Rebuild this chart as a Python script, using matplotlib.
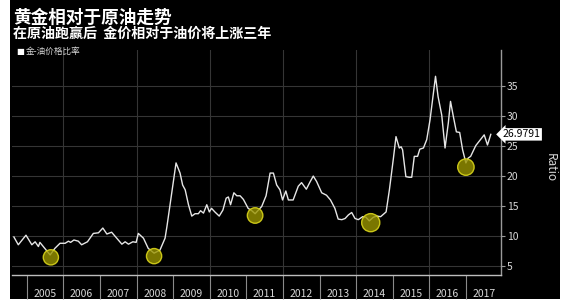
import matplotlib
matplotlib.use("Agg")
import matplotlib.pyplot as plt
from matplotlib.patches import Rectangle
import matplotlib.transforms as mtransforms

plt.rcParams['font.family'] = ['Noto Sans CJK SC', 'DejaVu Sans']

# ---- data (decimal years, gold/oil price ratio) ----
years = [2004.65, 2004.77, 2004.98, 2005.14, 2005.23, 2005.32, 2005.36, 2005.64, 2005.77, 2005.91,
         2006.05, 2006.14, 2006.20, 2006.29, 2006.41, 2006.50, 2006.66, 2006.82, 2006.96, 2007.08,
         2007.19, 2007.32, 2007.46, 2007.60, 2007.69, 2007.78, 2007.90, 2007.99, 2008.05, 2008.19,
         2008.32, 2008.48, 2008.64, 2008.78, 2008.83, 2008.96, 2009.08, 2009.19, 2009.26, 2009.33,
         2009.42, 2009.51, 2009.60, 2009.69, 2009.75, 2009.83, 2009.92, 2009.99, 2010.05, 2010.14,
         2010.26, 2010.36, 2010.45, 2010.51, 2010.57, 2010.66, 2010.74, 2010.83, 2010.92, 2011.05,
         2011.15, 2011.24, 2011.33, 2011.42, 2011.54, 2011.65, 2011.74, 2011.83, 2011.92, 2011.99,
         2012.08, 2012.15, 2012.28, 2012.42, 2012.51, 2012.64, 2012.74, 2012.83, 2012.92, 2013.06,
         2013.19, 2013.30, 2013.42, 2013.51, 2013.61, 2013.70, 2013.79, 2013.88, 2013.97, 2014.06,
         2014.18, 2014.27, 2014.36, 2014.47, 2014.57, 2014.67, 2014.82, 2014.91, 2015.02, 2015.09,
         2015.18, 2015.23, 2015.27, 2015.36, 2015.45, 2015.52, 2015.59, 2015.68, 2015.74, 2015.84,
         2015.93, 2016.02, 2016.09, 2016.17, 2016.24, 2016.34, 2016.43, 2016.52, 2016.58, 2016.65,
         2016.74, 2016.83, 2016.91, 2017.00, 2017.06, 2017.13, 2017.27, 2017.36, 2017.50, 2017.59,
         2017.68]
ratio = [9.8, 8.5, 10.1, 8.5, 9.0, 8.2, 8.9, 6.8, 7.9, 8.75,
         8.75, 9.1, 8.9, 9.3, 9.1, 8.5, 9.0, 10.4, 10.5, 11.3,
         10.3, 10.6, 9.6, 8.6, 9.0, 8.6, 9.0, 8.9, 10.4, 9.6,
         7.9, 7.1, 7.6, 9.6, 11.5, 17.1, 22.2, 20.5, 18.5, 17.7,
         15.2, 13.3, 13.7, 13.7, 14.2, 13.8, 15.2, 14.0, 14.6, 14.0,
         13.3, 14.3, 16.3, 16.5, 15.2, 17.2, 16.7, 16.7, 16.1, 14.6,
         14.2, 13.7, 14.3, 14.9, 16.7, 20.5, 20.5, 18.5, 17.7, 16.0,
         17.5, 16.0, 16.0, 18.3, 18.9, 17.8, 19.0, 20.0, 19.1, 17.2,
         16.8, 16.0, 14.6, 12.8, 12.7, 12.9, 13.5, 13.9, 12.9, 12.7,
         13.2, 13.1, 12.5, 13.1, 13.3, 13.2, 14.0, 17.7, 23.0, 26.6,
         24.7, 24.9, 24.4, 19.9, 19.8, 19.8, 23.3, 23.3, 24.5, 24.7,
         26.1, 29.4, 32.8, 36.7, 33.3, 30.2, 24.7, 28.9, 32.5, 30.2,
         27.4, 27.3, 24.4, 22.2, 23.0, 23.3, 25.1, 25.8, 26.9, 25.2,
         26.98]

highlight_years = [2005.66, 2008.48, 2011.24, 2014.40, 2017.00]
highlight_vals = [6.4, 6.6, 13.4, 12.2, 21.5]
highlight_sizes = [120, 120, 125, 170, 140]

year_labels = ['2005', '2006', '2007', '2008', '2009', '2010', '2011',
               '2012', '2013', '2014', '2015', '2016', '2017']
y_ticks = [5, 10, 15, 20, 25, 30, 35]
last_label = '26.9791'

title = '黄金相对于原油走势'
subtitle = '在原油跑赢后  金价相对于油价将上涨三年'
legend_text = '金-油价格比率'
ylabel = 'Ratio'

W, H = 566, 305
fig = plt.figure(figsize=(W / 100, H / 100), dpi=100, facecolor='white')

# black panel
fig.patches.append(Rectangle((10 / W, 6 / H), 550 / W, 299 / H, transform=fig.transFigure,
                             facecolor='black', edgecolor='none', zorder=-10))

ax = fig.add_axes([12 / W, 30 / H, (500.7 - 12) / W, (275 - 50) / H])
ax.set_zorder(1)
ax.patch.set_alpha(0)

ax.set_xlim(2004.598, 2017.951)
ax.set_ylim(3.44, 41.1)

grid_c = '#353535'
for yv in y_ticks:
    ax.axhline(yv, color=grid_c, lw=0.8, zorder=1)
for xv in range(2006, 2017, 2):
    ax.axvline(xv, color=grid_c, lw=0.8, zorder=1)

ax.plot(years, ratio, color='#e6e6e6', lw=1.0, zorder=3)
ax.scatter(highlight_years, highlight_vals, s=highlight_sizes,
           facecolor=(0.6, 0.58, 0.0, 0.8), edgecolor=(0.85, 0.83, 0.1, 0.9),
           linewidth=1.0, zorder=4)

for s in ['left', 'top']:
    ax.spines[s].set_visible(False)
ax.spines['bottom'].set_color('#bdbdbd')
ax.spines['bottom'].set_linewidth(1.0)
ax.spines['right'].set_color('#9a9a9a')
ax.spines['right'].set_linewidth(1.0)

# y axis on right
ax.yaxis.tick_right()
ax.set_yticks(y_ticks)
ax.set_yticklabels([str(v) for v in y_ticks])
ax.tick_params(axis='y', colors='#9a9a9a', labelcolor='#d8d8d8', labelsize=7.5,
               length=3, width=0.8, pad=1.5)

# x axis: year separators as minor ticks, labels at mid-year
ax.set_xticks([int(y) + 0.5 for y in year_labels])
ax.set_xticklabels(year_labels)
ax.set_xticks([int(y) for y in year_labels], minor=True)
ax.tick_params(axis='x', which='major', length=0, labelsize=7.5, labelcolor='#d8d8d8', pad=10)
ax.tick_params(axis='x', which='minor', length=17, width=0.8, color='#8a8a8a', direction='out')

# last value label
trans = mtransforms.blended_transform_factory(ax.transAxes, ax.transData)
ax.text(1.043, ratio[-1], last_label, transform=trans, ha='center', va='center',
        fontsize=7.5, color='black',
        bbox=dict(boxstyle='larrow,pad=0.12', facecolor='white', edgecolor='none'),
        zorder=6, clip_on=False)

fig.text(550 / W, 1 - 168 / H, ylabel, rotation=270, ha='center', va='center',
         fontsize=8.5, color='#d8d8d8')

fig.text(13 / W, 1 - 18 / H, title, ha='left', va='center', fontsize=12.7,
         color='white', fontweight='bold')
fig.text(13 / W, 1 - 33.5 / H, subtitle, ha='left', va='center', fontsize=10.1,
         color='white', fontweight='bold')
fig.text(16 / W, 1 - 51.5 / H, '■', ha='left', va='center', fontsize=6,
         color='white', family=['DejaVu Sans'])
fig.text(26 / W, 1 - 51.5 / H, legend_text, ha='left', va='center', fontsize=6.2,
         color='#d8d8d8')

fig.savefig('out.png', dpi=100, facecolor='white')
